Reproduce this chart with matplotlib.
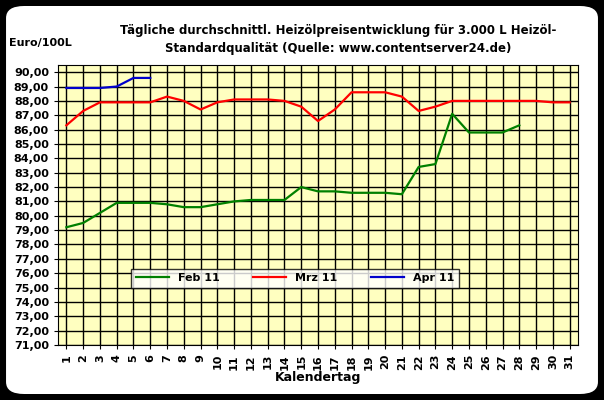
import matplotlib
matplotlib.use("Agg")
import matplotlib.pyplot as plt
from matplotlib.patches import FancyBboxPatch
import numpy as np

days = list(range(1, 32))
feb = [79.2, 79.5, 80.2, 80.9, 80.9, 80.9, 80.8, 80.6, 80.6, 80.8, 81.0, 81.1, 81.1, 81.1,
       82.0, 81.7, 81.7, 81.6, 81.6, 81.6, 81.5, 83.4, 83.6, 87.1, 85.8, 85.8, 85.8, 86.3]
mrz = [86.3, 87.3, 87.9, 87.9, 87.9, 87.9, 88.3, 88.0, 87.4, 87.9, 88.1, 88.1, 88.1, 88.0,
       87.6, 86.6, 87.4, 88.6, 88.6, 88.6, 88.3, 87.3, 87.6, 88.0, 88.0, 88.0, 88.0, 88.0,
       88.0, 87.9, 87.9]
apr = [88.9, 88.9, 88.9, 89.0, 89.6, 89.6]
yticks = np.arange(71, 91, 1)

fig = plt.figure(figsize=(6.04, 4.0), dpi=100, facecolor="black")
fig.patches.append(FancyBboxPatch((0.01, 0.015), 0.98, 0.97, boxstyle="round,pad=0,rounding_size=0.03",
                                  transform=fig.transFigure, facecolor="white", edgecolor="none", zorder=-1))
ax = fig.add_axes([58/604, 55/400, 520/604, 280/400])
ax.set_facecolor("#ffffc0")
ax.plot(days[:len(feb)], feb, color="#008000", lw=1.6, label="Feb 11")
ax.plot(days[:len(mrz)], mrz, color="#ff0000", lw=1.6, label="Mrz 11")
ax.plot(days[:len(apr)], apr, color="#0000cc", lw=1.6, label="Apr 11")
ax.set_xlim(0.5, 31.5)
ax.set_ylim(71, 90.5)
ax.set_xticks(days)
ax.set_xticklabels([str(d) for d in days], rotation=90, fontsize=8, fontweight="bold")
ax.set_yticks(yticks)
ax.set_yticklabels([f"{v},00" for v in yticks], fontsize=8, fontweight="bold")
ax.grid(True, color="black", lw=1)
ax.tick_params(length=3)
ax.set_xlabel("Kalendertag", fontsize=9, fontweight="bold", labelpad=1)
fig.text(0.015, 0.885, "Euro/100L", fontsize=8, fontweight="bold")
fig.text(0.56, 0.94, "Tägliche durchschnittl. Heizölpreisentwicklung für 3.000 L Heizöl-\nStandardqualität (Quelle: www.contentserver24.de)",
         ha="center", va="top", fontsize=8.5, fontweight="bold", linespacing=1.5)
leg = ax.legend(loc="lower left", bbox_to_anchor=(0.13, 0.185), ncol=3, frameon=True, fancybox=False,
                edgecolor="black", facecolor="white", prop={"size": 8, "weight": "bold"},
                handlelength=3, columnspacing=3, borderpad=0.4)
leg.get_frame().set_linewidth(1)
fig.savefig("out.png", dpi=100, facecolor="black")
